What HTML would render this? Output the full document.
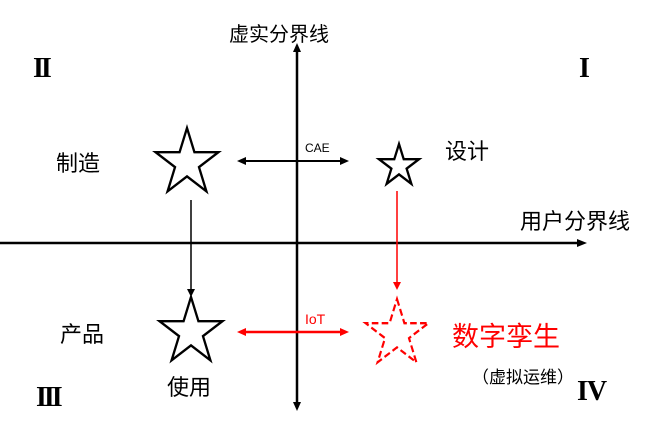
<!DOCTYPE html>
<html><head><meta charset="utf-8"><style>
html,body{margin:0;padding:0;background:#fff;}
svg{display:block;font-family:"Liberation Sans","Noto Sans CJK SC",sans-serif;}
.r{font-family:"Liberation Serif",serif;font-weight:bold;}
</style></head><body>
<svg width="653" height="427" viewBox="0 0 653 427" xmlns="http://www.w3.org/2000/svg">
<defs>
<polygon id="st" points="0,-1 0.2245,-0.309 0.951,-0.309 0.363,0.118 0.588,0.809 0,0.382 -0.588,0.809 -0.363,0.118 -0.951,-0.309 -0.2245,-0.309"/>
</defs>
<line x1="297" y1="50" x2="297" y2="404" stroke="#000" stroke-width="2.5"/>
<polygon points="297,43 293,52 301,52" fill="#000"/>
<polygon points="297,411 293,402 301,402" fill="#000"/>
<line x1="0" y1="243" x2="578" y2="243" stroke="#000" stroke-width="2.5"/>
<polygon points="587,243 577,239 577,247" fill="#000"/>
<line x1="244" y1="161" x2="342" y2="161" stroke="#000" stroke-width="2"/>
<polygon points="237,161 246,157 246,165" fill="#000"/>
<polygon points="349,161 340,157 340,165" fill="#000"/>
<line x1="244" y1="332" x2="342" y2="332" stroke="#f00" stroke-width="2.5"/>
<polygon points="237,332 246,328 246,336" fill="#f00"/>
<polygon points="349,332 340,328 340,336" fill="#f00"/>
<line x1="191" y1="200" x2="191" y2="290" stroke="#000" stroke-width="1.5"/>
<polygon points="191,297 187,289 195,289" fill="#000"/>
<line x1="397" y1="191" x2="397" y2="283" stroke="#f00" stroke-width="1.5"/>
<polygon points="397,290 393,282 401,282" fill="#f00"/>
<g fill="none" stroke="#000">
<use href="#st" transform="translate(187,163) scale(33,35)" style="stroke-width:0.07"/>
<use href="#st" transform="translate(399,166) scale(21,22)" style="stroke-width:0.11"/>
<use href="#st" transform="translate(191,332) scale(33,35)" style="stroke-width:0.07"/>
</g>
<use href="#st" transform="translate(397,334) scale(33,35)" fill="none" stroke="#f00" style="stroke-width:0.065;stroke-dasharray:0.2 0.1"/>
<text x="229" y="41" font-size="20">虚实分界线</text>
<text class="r" x="33" y="77" font-size="28" letter-spacing="-3">II</text>
<text class="r" x="579" y="77" font-size="28">I</text>
<text x="56" y="171" font-size="22">制造</text>
<text x="445" y="159" font-size="22">设计</text>
<text x="305" y="152" font-size="12">CAE</text>
<text x="520" y="229" font-size="22">用户分界线</text>
<text x="305" y="324" font-size="14" fill="#f00">IoT</text>
<text x="60" y="342" font-size="22">产品</text>
<text x="167" y="395" font-size="22">使用</text>
<text class="r" x="36" y="406" font-size="28" letter-spacing="-3">III</text>
<text x="452" y="346" font-size="27" fill="#f00">数字孪生</text>
<text x="472" y="383" font-size="17">（虚拟运维）</text>
<text class="r" x="577" y="400" font-size="28" letter-spacing="-1">IV</text>
</svg>
</body></html>
